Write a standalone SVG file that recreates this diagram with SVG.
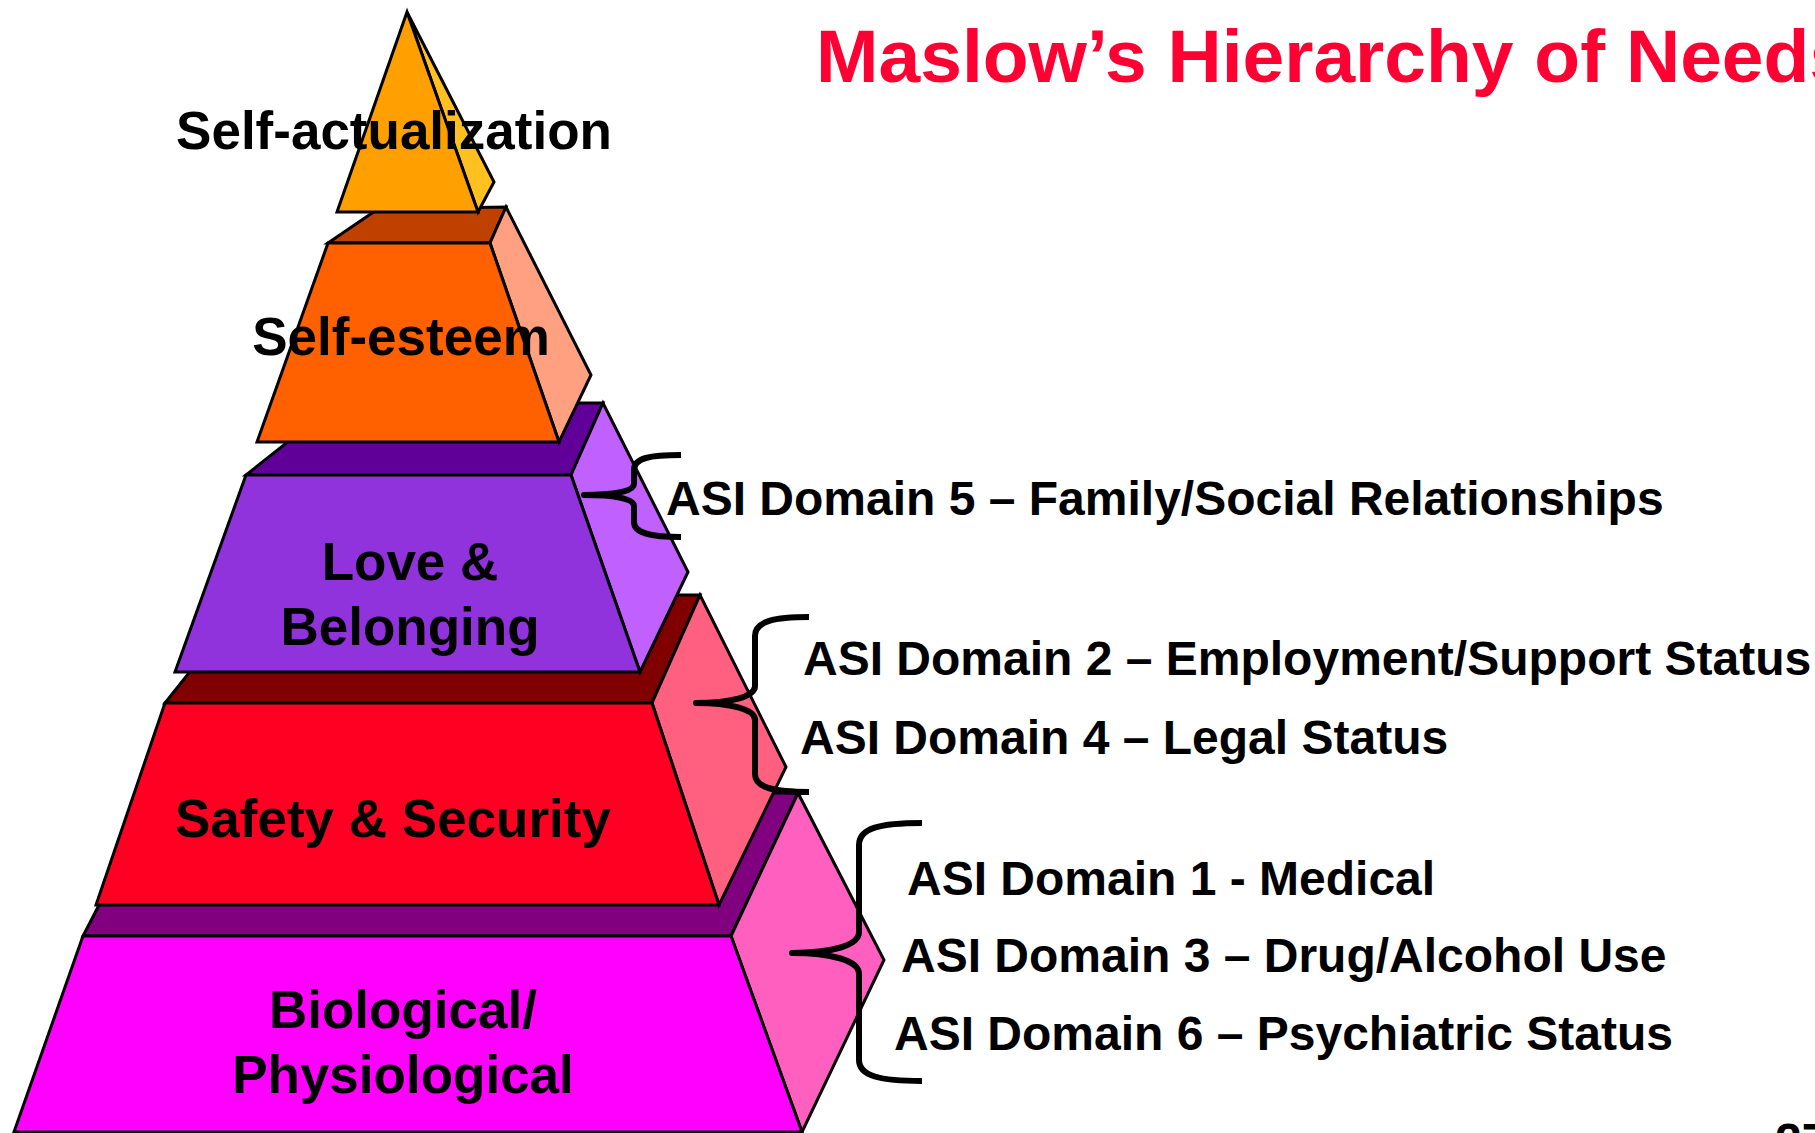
<svg xmlns="http://www.w3.org/2000/svg" width="1815" height="1133" viewBox="0 0 1815 1133">
<style>
.f{stroke:#000;stroke-width:3;stroke-linejoin:miter}
.lbl{font-family:"Liberation Sans",Arial,sans-serif;font-weight:bold;font-size:53px;fill:#000;text-anchor:middle}
.asi{font-family:"Liberation Sans",Arial,sans-serif;font-weight:bold;font-size:48px;fill:#000}
.title{font-family:"Liberation Sans",Arial,sans-serif;font-weight:bold;font-size:75px;fill:#FF0033}
.brace{fill:none;stroke:#000;stroke-width:6;stroke-linecap:butt;stroke-linejoin:round}
</style>
<rect width="1815" height="1133" fill="#fff"/>
<text class="title" x="816" y="82">Maslow’s Hierarchy of Needs</text>

<g id="biological">
  <polygon class="f" fill="#800080" points="83,936 731,936 798,793 157,793"/>
  <polygon class="f" fill="#FF60C0" points="731,936 798,793 884,960 802,1132"/>
  <polygon class="f" fill="#FF00FF" points="83,936 731,936 802,1132 14,1132"/>
  <text class="lbl" x="403" y="1028">Biological/</text>
  <text class="lbl" x="403" y="1093">Physiological</text>
</g>

<g id="safety">
  <polygon class="f" fill="#800000" points="165,703 652,703 700,595 251,595"/>
  <polygon class="f" fill="#FF6080" points="652,703 700,595 786,767 719,905"/>
  <polygon class="f" fill="#FF0022" points="165,703 652,703 719,905 96,905"/>
  <text class="lbl" x="393" y="837">Safety &amp; Security</text>
</g>

<g id="love">
  <polygon class="f" fill="#600099" points="246,475 571,475 603,403 337,403"/>
  <polygon class="f" fill="#C060FF" points="571,475 603,403 688,572 640,672"/>
  <polygon class="f" fill="#9033DD" points="246,475 571,475 640,672 175,672"/>
  <text class="lbl" x="410" y="580">Love &amp;</text>
  <text class="lbl" x="410" y="645">Belonging</text>
</g>

<g id="esteem">
  <polygon class="f" fill="#C04000" points="328,243 490,243 506,207 378,209"/>
  <polygon class="f" fill="#FFA080" points="490,243 506,207 591,375 559,442"/>
  <polygon class="f" fill="#FF6000" points="328,243 490,243 559,442 257,442"/>
</g>

<g id="actualization">
  <polygon class="f" fill="#FFC020" points="407,12 494,182 478,212"/>
  <polygon class="f" fill="#FFA000" points="407,12 478,212 337,212"/>
</g>

<text class="lbl" x="401" y="355">Self-esteem</text>
<text class="lbl" x="394" y="149">Self-actualization</text>

<g id="connectors">
  <path class="brace" d="M681,455 C650,455 634,458 634,470 L634,484 C634,492 612,495 584,495 C612,495 634,498 634,506 L634,522 C634,533 650,537 681,537"/>
  <path class="brace" d="M809,617 C775,617 755,621 755,636 L755,686 C755,697 730,703 696,703 C730,703 755,709 755,720 L755,774 C755,788 775,792 809,792"/>
  <path class="brace" d="M922,823 C880,823 859,828 859,845 L859,932 C859,946 830,953 792,953 C830,953 859,960 859,974 L859,1060 C859,1076 880,1081 922,1081"/>
</g>

<g id="domain5"><text class="asi" x="666" y="515">ASI Domain 5 – Family/Social Relationships</text></g>
<g id="domain2"><text class="asi" x="803" y="675">ASI Domain 2 – Employment/Support Status</text></g>
<g id="domain4"><text class="asi" x="800" y="754">ASI Domain 4 – Legal Status</text></g>
<g id="domain1"><text class="asi" x="907" y="895">ASI Domain 1 - Medical</text></g>
<g id="domain3"><text class="asi" x="901" y="972">ASI Domain 3 – Drug/Alcohol Use</text></g>
<g id="domain6"><text class="asi" x="894" y="1050">ASI Domain 6 – Psychiatric Status</text></g>

<text class="asi" x="1775" y="1157" font-size="37">27</text>
</svg>
